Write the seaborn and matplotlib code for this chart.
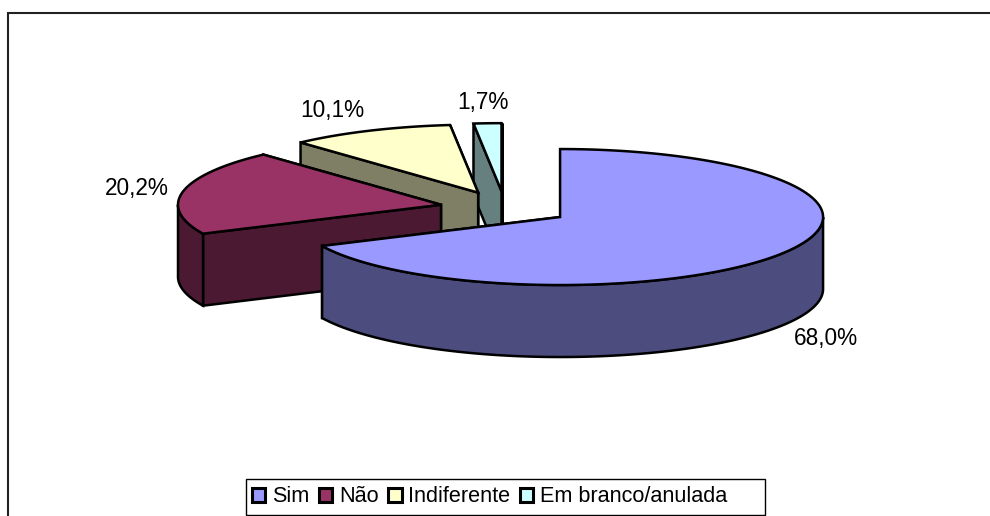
import numpy as np
import seaborn as sns
import matplotlib.pyplot as plt
from matplotlib.patches import Polygon, Patch, Rectangle

labels = ['Sim', 'Não', 'Indiferente', 'Em branco/anulada']
values = [68.0, 20.2, 10.1, 1.7]
value_labels = ['68,0%', '20,2%', '10,1%', '1,7%']
colors = ['#9999FF', '#993366', '#FFFFCC', '#CCFFFF']
side_colors = ['#4C4C7F', '#4C1933', '#7F7F66', '#667F7F']
label_pos = [(826, 339), (137, 189), (332, 111), (483, 103)]

# pie shape in pixels, y going down
cx, cy = 505, 208
rx, ry = 263, 68
depth = 72
explode = 0.248

sns.set_theme(style='white')
plt.rcParams['font.family'] = ['Liberation Sans', 'DejaVu Sans']

fig = plt.figure(figsize=(9.9, 5.16), dpi=100)
ax = fig.add_axes([0, 0, 1, 1])
ax.set_xlim(0, 990)
ax.set_ylim(516, 0)
ax.axis('off')


def rim(ang, ox, oy, dy=0):
    return np.column_stack([ox + rx * np.sin(ang), oy - ry * np.cos(ang) + dy])


def face(pts, color, z):
    ax.add_patch(Polygon(pts, closed=True, facecolor=color, edgecolor='black',
                         linewidth=1.8, joinstyle='miter', zorder=z))


# angles run clockwise from 12 o'clock
edges = np.radians(np.concatenate([[0], np.cumsum(values)]) * 3.6)
draw_order = [3, 2, 1, 0]

for z, i in enumerate(draw_order):
    a0, a1 = edges[i], edges[i + 1]
    mid = (a0 + a1) / 2
    ox = cx + explode * rx * np.sin(mid)
    oy = cy - explode * ry * np.cos(mid)
    base = z * 10

    # cut faces, the one further back first
    for a in sorted([a0, a1], key=lambda v: -np.cos(v)):
        outer = rim(np.array([a]), ox, oy)[0]
        face([(ox, oy), outer, (outer[0], outer[1] + depth), (ox, oy + depth)],
             side_colors[i], base + 1)

    # outer wall, only the part facing us
    lo, hi = max(a0, np.pi / 2), min(a1, 3 * np.pi / 2)
    if hi > lo:
        ang = np.linspace(lo, hi, 120)
        wall = np.vstack([rim(ang, ox, oy), rim(ang[::-1], ox, oy, depth)])
        face(wall, side_colors[i], base + 2)

    ang = np.linspace(a0, a1, 240)
    face(np.vstack([[(ox, oy)], rim(ang, ox, oy)]), colors[i], base + 3)

for txt, (x, y) in zip(value_labels, label_pos):
    ax.text(x, y, txt, fontsize=16.3, color='black', ha='center', va='center', zorder=100)

# chart frame runs off the image on the right and bottom
ax.plot([7.5, 7.5, 990], [516, 12.5, 12.5], color='#222222', lw=1.5, zorder=50,
        solid_joinstyle='miter')

# legend box is wider than its entries, so it is drawn apart
ax.add_patch(Rectangle((245.5, 478.5), 519.5, 36, facecolor='white', edgecolor='black',
                       linewidth=1.0, zorder=60))
handles = [Patch(facecolor=c, edgecolor='black', linewidth=2.2) for c in colors]
leg = ax.legend(handles, labels, ncol=4, fontsize=15.6, loc='center left',
                bbox_to_anchor=(252 / 990, 1 - 497 / 516), bbox_transform=ax.transAxes,
                borderaxespad=0, handlelength=0.62, handleheight=0.62,
                handletextpad=0.3, columnspacing=0.45, borderpad=0,
                frameon=False, labelcolor='black')
leg.set_zorder(61)

fig.savefig('out.png', dpi=100)
